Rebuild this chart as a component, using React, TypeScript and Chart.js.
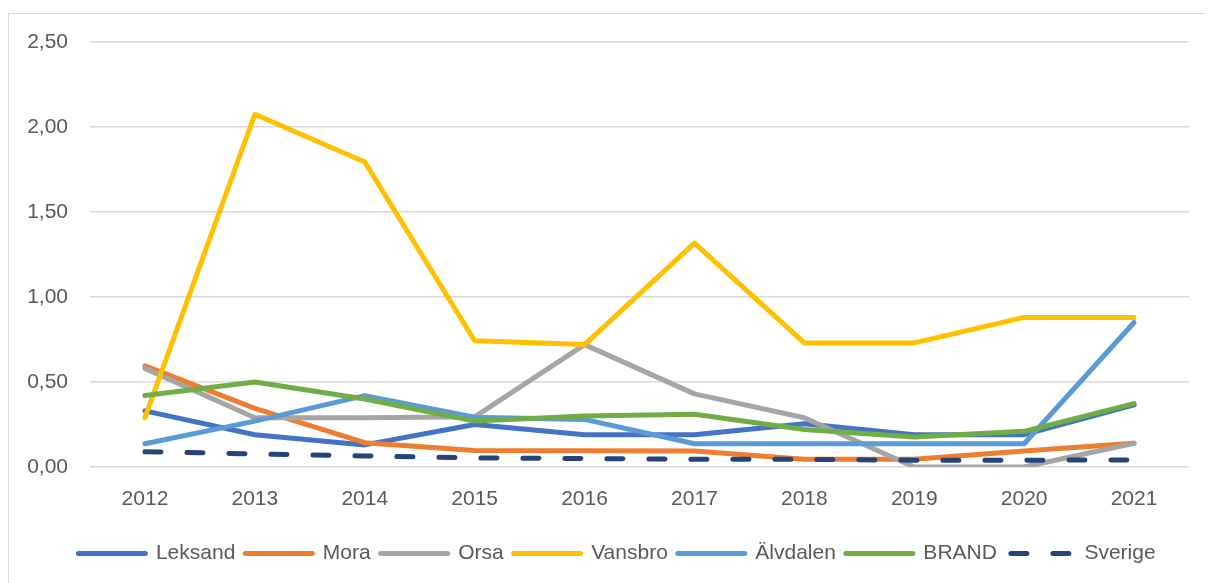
import React, { useEffect, useRef } from "react";
import { Chart, registerables } from "chart.js";

Chart.register(...registerables);

const years = ["2012", "2013", "2014", "2015", "2016", "2017", "2018", "2019", "2020", "2021"];
const leksand = [0.33, 0.19, 0.13, 0.25, 0.19, 0.19, 0.255, 0.19, 0.19, 0.365];
const mora = [0.595, 0.345, 0.143, 0.097, 0.095, 0.094, 0.046, 0.046, 0.094, 0.14];
const orsa = [0.58, 0.29, 0.29, 0.295, 0.72, 0.43, 0.29, 0.0, 0.0, 0.14];
const vansbro = [0.29, 2.075, 1.794, 0.743, 0.72, 1.317, 0.73, 0.73, 0.88, 0.88];
const alvdalen = [0.137, 0.27, 0.42, 0.293, 0.28, 0.137, 0.137, 0.137, 0.137, 0.85];
const brand = [0.42, 0.5, 0.4, 0.27, 0.3, 0.31, 0.22, 0.177, 0.21, 0.373];
const sverige = [0.09, 0.077, 0.065, 0.053, 0.05, 0.045, 0.045, 0.04, 0.04, 0.042];

const seriesNames = ["Leksand", "Mora", "Orsa", "Vansbro", "Älvdalen", "BRAND", "Sverige"];
const seriesValues = [leksand, mora, orsa, vansbro, alvdalen, brand, sverige];
const seriesColors = ["#4472C4", "#ED7D31", "#A5A5A5", "#FFC000", "#5B9BD5", "#70AD47", "#264478"];
const sverigeDash = [16, 26];

const legendShift = {
  id: "legendShift",
  afterLayout(chart: any) {
    const lg = chart.legend;
    if (lg) {
      lg.left += 18;
      lg.right += 18;
    }
  },
};

export default function App() {
  const ref = useRef<HTMLCanvasElement | null>(null);

  useEffect(() => {
    if (!ref.current) return;
    document.body.style.overflow = "hidden";
    const font = "'Liberation Sans', Arial, sans-serif";
    const chart = new Chart(ref.current, {
      type: "line",
      plugins: [legendShift],
      data: {
        labels: years,
        datasets: seriesNames.map((name, i) => ({
          label: name,
          data: seriesValues[i],
          borderColor: seriesColors[i],
          backgroundColor: seriesColors[i],
          borderWidth: 5,
          borderCapStyle: "round" as const,
          borderJoinStyle: "round" as const,
          borderDash: name === "Sverige" ? sverigeDash : [],
          pointRadius: 0,
          tension: 0,
          order: 7 - i,
        })),
      },
      options: {
        animation: false,
        responsive: true,
        maintainAspectRatio: false,
        layout: { autoPadding: false, padding: { top: 28, right: 25, left: 0, bottom: 10 } },
        plugins: {
          tooltip: { enabled: false },
          legend: {
            position: "bottom",
            labels: {
              usePointStyle: true,
              pointStyle: "line",
              pointStyleWidth: 67,
              boxHeight: 21,
              color: "#595959",
              padding: 10,
              font: { family: font, size: 21 },
              sort: (a: any, b: any) => a.datasetIndex - b.datasetIndex,
              generateLabels: (c: any) => {
                const items = Chart.defaults.plugins.legend.labels.generateLabels(c);
                items.forEach((it: any) => {
                  const ds = c.data.datasets[it.datasetIndex];
                  it.lineWidth = 5;
                  it.lineCap = "round";
                  it.strokeStyle = ds.borderColor;
                  if (ds.label === "Sverige") {
                    it.lineDash = sverigeDash;
                    it.lineDashOffset = -4;
                  }
                });
                return items;
              },
            },
          },
        },
        scales: {
          x: {
            offset: true,
            grid: { display: false, drawTicks: false },
            border: { display: false },
            ticks: { color: "#595959", font: { family: font, size: 21 }, padding: 20, maxRotation: 0 },
            afterFit: (scale: any) => {
              scale.height = 66;
            },
          },
          y: {
            min: 0,
            max: 2.5,
            afterFit: (scale: any) => {
              scale.width = 81;
              scale.paddingTop = 0;
              scale.paddingBottom = 0;
            },
            grid: { color: "#d9d9d9", lineWidth: 1.5, drawTicks: false },
            border: { display: false },
            ticks: {
              stepSize: 0.5,
              color: "#595959",
              padding: 22,
              font: { family: font, size: 21 },
              callback: (v: any) => Number(v).toFixed(2).replace(".", ","),
            },
          },
        },
      },
    });
    return () => chart.destroy();
  }, []);

  return (
    <div
      style={{
        marginTop: 5,
        width: 1205,
        height: 570,
        borderLeft: "1px solid #d9d9d9",
        borderTop: "1px solid #d9d9d9",
        position: "relative",
        background: "#fff",
      }}
    >
      <canvas ref={ref} />
    </div>
  );
}
